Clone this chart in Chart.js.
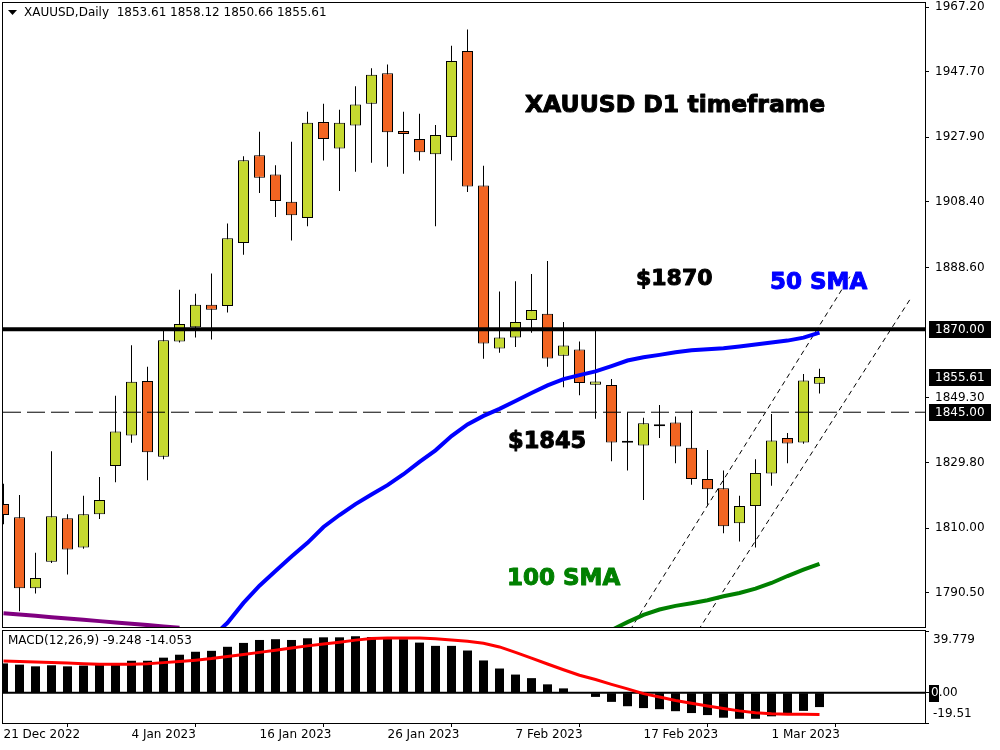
<!DOCTYPE html>
<html>
<head>
<meta charset="utf-8">
<script src="https://cdn.jsdelivr.net/npm/chart.js@4.4.0/dist/chart.umd.min.js"></script>
<style>
  html, body { margin: 0; padding: 0; background: #fff; }
  #wrap { position: relative; width: 1000px; height: 750px; overflow: hidden; }
  #priceBox { position: absolute; left: 0; top: 0; width: 1000px; height: 628px; }
  #macdBox { position: absolute; left: 0; top: 628px; width: 1000px; height: 122px; }
</style>
</head>
<body>
<div id="wrap">
  <div id="priceBox"><canvas id="price"></canvas></div>
  <div id="macdBox"><canvas id="macd"></canvas></div>
</div>
<script>
// daily bars, XAUUSD
const dates = ["21 Dec 2022","22 Dec 2022","23 Dec 2022","27 Dec 2022","28 Dec 2022","29 Dec 2022","30 Dec 2022",
  "3 Jan 2023","4 Jan 2023","5 Jan 2023","6 Jan 2023","9 Jan 2023","10 Jan 2023","11 Jan 2023","12 Jan 2023",
  "13 Jan 2023","16 Jan 2023","17 Jan 2023","18 Jan 2023","19 Jan 2023","20 Jan 2023","23 Jan 2023","24 Jan 2023",
  "25 Jan 2023","26 Jan 2023","27 Jan 2023","30 Jan 2023","31 Jan 2023","1 Feb 2023","2 Feb 2023","3 Feb 2023",
  "6 Feb 2023","7 Feb 2023","8 Feb 2023","9 Feb 2023","10 Feb 2023","13 Feb 2023","14 Feb 2023","15 Feb 2023",
  "16 Feb 2023","17 Feb 2023","20 Feb 2023","21 Feb 2023","22 Feb 2023","23 Feb 2023","24 Feb 2023","27 Feb 2023",
  "28 Feb 2023","1 Mar 2023","2 Mar 2023","3 Mar 2023","6 Mar 2023"];

const openP = [1817.3,1813.3,1791.9,1799.9,1813.0,1804.2,1814.2,1828.8,1838.0,1854.4,1831.6,1866.3,1870.6,1877.4,
  1877.0,1896.0,1922.5,1916.7,1908.5,1903.6,1932.5,1924.5,1931.5,1938.0,1947.2,1929.8,1927.4,1922.8,1928.0,1953.9,
  1913.4,1864.2,1867.5,1872.8,1874.7,1862.0,1863.9,1853.3,1853.2,1836.4,1835.0,1841.4,1841.9,1834.3,1824.9,1822.1,
  1811.5,1816.7,1826.5,1837.2,1835.9,1853.61];
const highP = [1823.4,1820.0,1802.6,1833.2,1814.2,1819.8,1825.5,1850.0,1865.2,1858.7,1869.6,1881.9,1880.7,1886.8,
  1901.9,1922.2,1929.6,1919.5,1926.6,1935.6,1938.0,1936.2,1943.3,1948.7,1949.9,1935.6,1935.0,1931.6,1955.5,1960.4,
  1919.3,1881.4,1884.5,1886.7,1890.6,1872.2,1866.3,1870.0,1855.0,1844.9,1843.3,1847.2,1843.7,1845.5,1833.6,1827.4,
  1819.8,1830.8,1844.5,1838.7,1856.5,1858.12];
const lowP = [1811.2,1785.0,1790.3,1799.5,1796.1,1803.8,1812.8,1823.9,1835.8,1824.5,1830.8,1866.0,1867.5,1866.9,
  1875.1,1892.5,1911.1,1903.9,1896.8,1901.1,1920.9,1911.7,1917.5,1920.2,1919.0,1916.9,1920.9,1901.1,1920.9,1911.4,
  1861.1,1862.9,1864.7,1869.0,1858.7,1852.5,1850.1,1843.0,1830.2,1827.4,1818.5,1837.2,1829.6,1823.1,1817.1,1808.5,
  1806.0,1804.2,1822.8,1829.6,1835.5,1850.66];
const closeP = [1814.0,1791.9,1795.0,1813.6,1803.6,1814.2,1818.5,1839.2,1854.2,1832.9,1866.7,1871.6,1877.4,1875.9,
  1897.5,1921.0,1915.7,1908.7,1904.4,1932.3,1927.4,1932.3,1937.8,1946.8,1929.4,1928.9,1923.4,1928.6,1950.9,1913.1,
  1865.7,1867.5,1872.2,1875.8,1861.2,1865.1,1853.8,1854.3,1835.9,1835.8,1841.7,1840.8,1834.7,1824.9,1821.8,1810.6,
  1816.7,1826.7,1836.5,1835.6,1854.6,1855.61];

// moving averages, first value sits on bar index *Start
const sma50Start = 13;
const sma50 = [1777.0,1781.5,1787.5,1792.7,1797.1,1801.5,1805.6,1810.4,1814.0,1817.3,1820.2,1823.0,1826.3,1830.0,
  1833.5,1837.8,1841.3,1843.9,1846.0,1848.4,1850.8,1853.1,1855.0,1856.2,1857.3,1858.9,1860.6,1861.6,1862.3,1863.1,
  1863.7,1864.0,1864.3,1864.8,1865.4,1866.0,1866.6,1867.5,1869.0];
const sma100Start = 37;
const sma100 = [1776.0,1779.3,1781.7,1783.9,1785.5,1786.6,1787.4,1788.3,1789.5,1790.5,1791.8,1793.5,1795.6,1797.5,1799.3];
const sma200Start = 0;
const sma200 = [1784.4,1784.0,1783.6,1783.2,1782.8,1782.4,1782.0,1781.6,1781.2,1780.8,1780.4,1780.0];

// MACD(12,26,9)
const macdHist = [18.9,18.1,17.0,17.7,17.0,17.5,18.1,18.5,20.6,20.6,22.6,24.5,26.4,27.0,29.6,32.1,34.0,34.5,34.0,
  35.1,35.7,35.7,36.4,35.9,34.9,34.5,32.3,30.2,30.2,27.2,20.8,15.6,11.7,9.4,5.4,2.8,0.3,-2.7,-5.9,-8.7,-9.9,-10.6,
  -11.9,-13.1,-14.4,-16.1,-16.8,-16.8,-15.2,-13.3,-11.7,-9.248];
const macdSignal = [20.5,20.2,19.8,19.4,19.1,18.7,18.4,18.3,18.3,18.7,19.4,20.2,21.0,22.0,23.3,24.6,26.0,27.4,28.8,
  30.2,31.4,32.6,33.9,35.0,35.3,35.3,35.2,34.8,34.0,33.1,31.9,29.5,26.0,22.3,18.5,14.8,11.3,8.5,5.4,2.5,-0.6,-2.8,
  -5.0,-6.8,-8.6,-10.2,-11.7,-12.9,-13.6,-13.8,-13.9,-14.053];

// axis labels
const priceTicks = [1967.20, 1947.70, 1927.90, 1908.40, 1888.60, 1849.30, 1829.80, 1810.00, 1790.50];
const priceTags = [1870.00, 1855.61, 1845.00];
const macdTicks = [39.779, 0, -19.51];
const dateTickIdx = [0, 8, 16, 24, 32, 40, 48];

// drawn objects: levels and channel (bar index, price)
const levelSolid = 1870;
const levelDashed = 1845;
const channelUpperX = [39.16, 52.9], channelUpperY = [1779.3, 1885.9];
const channelLowerX = [43.43, 56.76], channelLowerY = [1779.3, 1879.8];

const X_MIN = -0.03125, X_MAX = 57.59375;
const Y_MIN = 1780.23, Y_MAX = 1968.41;

const BULL = '#C5D930', BEAR = '#F26522';
const FONT = 'DejaVu Sans';

const notes = [
  { text: 'XAUUSD D1 timeframe', x: 525, y: 106, color: '#000', size: 23.5 },
  { text: '$1870', x: 636, y: 279, color: '#000', size: 22 },
  { text: '50 SMA', x: 770, y: 283, color: '#0000FF', size: 23 },
  { text: '$1845', x: 508, y: 442, color: '#000', size: 22.5 },
  { text: '100 SMA', x: 507, y: 579, color: '#008000', size: 23 }
];

function pts(vals, start) {
  return vals.map((v, k) => ({ x: start + k, y: v }));
}
function pairPts(xs, ys) {
  return xs.map((x, k) => ({ x: x, y: ys[k] }));
}

const candleColors = closeP.map((c, i) => c >= openP[i] ? BULL : BEAR);
const bodies = dates.map((d, i) => ({ x: i, y: [Math.min(openP[i], closeP[i]), Math.max(openP[i], closeP[i])] }));
const wicks = dates.map((d, i) => ({ x: i, y: [lowP[i], highP[i]] }));

function lineDs(data, color, width, dash) {
  return {
    type: 'line', data: data, borderColor: color, borderWidth: width, borderDash: dash || [],
    pointRadius: 0, fill: false, tension: 0, order: 0
  };
}

const frame = {
  id: 'frame',
  afterDraw(chart) {
    const a = chart.chartArea, ctx = chart.ctx;
    ctx.save();
    ctx.strokeStyle = '#000';
    ctx.lineWidth = 1;
    ctx.strokeRect(a.left - 0.5, a.top - 0.5, a.right - a.left + 1, a.bottom - a.top + 1);
    ctx.restore();
  }
};

const priceOverlay = {
  id: 'priceOverlay',
  afterDraw(chart) {
    const ctx = chart.ctx, ys = chart.scales.y;
    const last = dates.length - 1;
    ctx.save();
    // header
    ctx.fillStyle = '#000';
    ctx.beginPath();
    ctx.moveTo(8, 10); ctx.lineTo(17, 10); ctx.lineTo(12.5, 15); ctx.closePath();
    ctx.fill();
    ctx.font = '12px "' + FONT + '"';
    ctx.textBaseline = 'middle';
    ctx.fillText('XAUUSD,Daily  ' + [openP[last], highP[last], lowP[last], closeP[last]].map(v => v.toFixed(2)).join(' '), 24, 13);

    // heavy annotation text
    notes.forEach(n => {
      ctx.font = 'bold ' + n.size + 'px "' + FONT + '"';
      ctx.fillStyle = n.color;
      ctx.strokeStyle = n.color;
      ctx.lineWidth = 1;
      ctx.lineJoin = 'round';
      ctx.fillText(n.text, n.x, n.y);
      ctx.strokeText(n.text, n.x, n.y);
    });

    // price tags on the axis
    ctx.font = '12px "' + FONT + '"';
    priceTags.forEach(v => {
      const y = ys.getPixelForValue(v);
      ctx.fillStyle = '#000';
      ctx.fillRect(929, Math.round(y) - 8, 62, 17);
      ctx.fillStyle = '#fff';
      ctx.fillText(v.toFixed(2), 935, y + 0.5);
    });
    ctx.restore();
  }
};

const macdOverlay = {
  id: 'macdOverlay',
  afterDraw(chart) {
    const ctx = chart.ctx, ys = chart.scales.y, a = chart.chartArea;
    const last = dates.length - 1;
    ctx.save();
    ctx.font = '12px "' + FONT + '"';
    ctx.textBaseline = 'middle';
    ctx.fillStyle = '#000';
    ctx.fillText('MACD(12,26,9) ' + macdHist[last].toFixed(3) + ' ' + macdSignal[last].toFixed(3), 8, a.top + 10);
    macdTicks.forEach(v => {
      let y = ys.getPixelForValue(v);
      y = Math.min(Math.max(y, a.top + 9), a.bottom - 9);
      if (v === 0) {
        ctx.fillStyle = '#000';
        ctx.fillRect(929, Math.round(y) - 8, 10, 17);
        ctx.fillStyle = '#fff';
        ctx.fillText('0', 931, y);
        ctx.fillStyle = '#000';
        ctx.fillText('.00', 931 + ctx.measureText('0').width, y);
      } else {
        ctx.fillStyle = '#000';
        ctx.fillText(String(v), 933, y);
      }
    });
    ctx.restore();
  }
};

new Chart(document.getElementById('price'), {
  type: 'bar',
  data: {
    datasets: [
      lineDs(pts(sma50, sma50Start), '#0000FF', 4),
      lineDs(pts(sma100, sma100Start), '#008000', 4),
      lineDs(pts(sma200, sma200Start), '#800080', 4),
      lineDs([{ x: X_MIN, y: levelSolid }, { x: X_MAX, y: levelSolid }], '#000', 4),
      lineDs([{ x: X_MIN, y: levelDashed }, { x: X_MAX, y: levelDashed }], '#000', 1, [18, 6]),
      lineDs(pairPts(channelUpperX, channelUpperY), '#000', 1, [5, 4]),
      lineDs(pairPts(channelLowerX, channelLowerY), '#000', 1, [5, 4]),
      {
        data: bodies, backgroundColor: candleColors, borderColor: '#000', borderWidth: 1,
        borderSkipped: false, barThickness: 11, grouped: false, inflateAmount: 0, order: 1
      },
      {
        data: wicks, backgroundColor: '#000', borderWidth: 0,
        barThickness: 1, grouped: false, inflateAmount: 0, order: 2
      }
    ]
  },
  options: {
    responsive: true, maintainAspectRatio: false, animation: false, events: [],
    layout: { padding: { left: 3, top: 3, right: 0, bottom: 1 } },
    plugins: { legend: { display: false }, tooltip: { enabled: false } },
    scales: {
      x: { type: 'linear', min: X_MIN, max: X_MAX, offset: false, display: false },
      y: {
        position: 'right', min: Y_MIN, max: Y_MAX,
        afterBuildTicks: s => { s.ticks = priceTicks.map(v => ({ value: v })); },
        afterFit: s => { s.width = 75; s.paddingTop = 0; s.paddingBottom = 0; },
        ticks: { callback: v => v.toFixed(2), color: '#000', font: { family: FONT, size: 12 }, padding: 6, autoSkip: false },
        grid: { drawOnChartArea: false, drawTicks: true, tickLength: 4, color: '#000' },
        border: { display: false }
      }
    }
  },
  plugins: [frame, priceOverlay]
});

new Chart(document.getElementById('macd'), {
  type: 'bar',
  data: {
    datasets: [
      lineDs(pts(macdSignal, 0), '#FF0000', 3),
      Object.assign(lineDs([{ x: X_MIN, y: 0 }, { x: X_MAX, y: 0 }], '#000', 2), { order: 1 }),
      {
        data: pts(macdHist, 0), backgroundColor: '#000', borderWidth: 0,
        barThickness: 9, grouped: false, inflateAmount: 0, order: 2
      }
    ]
  },
  options: {
    responsive: true, maintainAspectRatio: false, animation: false, events: [],
    layout: { padding: { left: 3, top: 3, right: 0, bottom: 0 } },
    plugins: { legend: { display: false }, tooltip: { enabled: false } },
    scales: {
      x: {
        type: 'linear', min: X_MIN, max: X_MAX, offset: false,
        afterBuildTicks: s => { s.ticks = dateTickIdx.map(v => ({ value: v })); },
        afterFit: s => { s.height = 27; s.paddingLeft = 0; s.paddingRight = 0; },
        ticks: {
          callback: v => dates[v], align: 'start', autoSkip: false, maxRotation: 0,
          color: '#000', font: { family: FONT, size: 12 }, padding: 1
        },
        grid: { drawOnChartArea: false, drawTicks: true, tickLength: 4, color: '#000' },
        border: { display: false }
      },
      y: {
        position: 'right', min: -19.51, max: 39.779,
        afterBuildTicks: s => { s.ticks = macdTicks.map(v => ({ value: v })); },
        afterFit: s => { s.width = 75; s.paddingTop = 0; s.paddingBottom = 0; },
        ticks: { display: false },
        grid: { drawOnChartArea: false, drawTicks: true, tickLength: 4, color: '#000' },
        border: { display: false }
      }
    }
  },
  plugins: [frame, macdOverlay]
});
</script>
</body>
</html>
